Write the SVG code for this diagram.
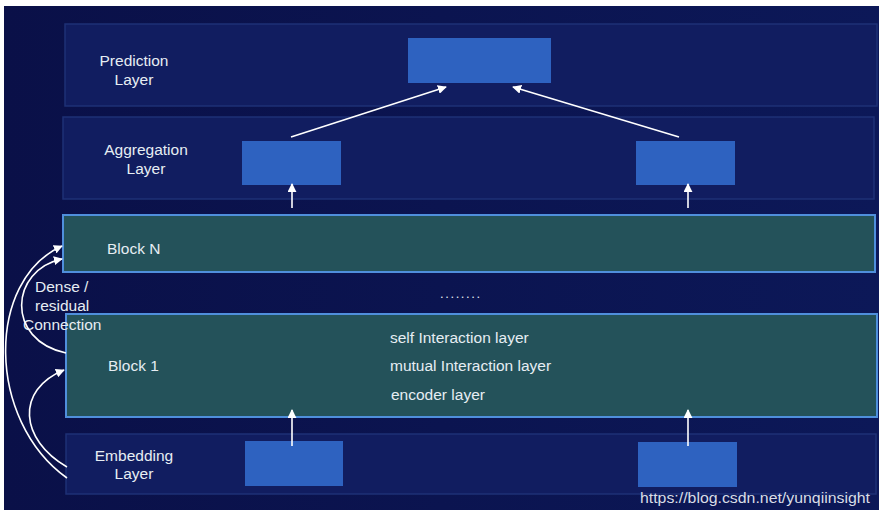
<svg xmlns="http://www.w3.org/2000/svg" width="882" height="517" viewBox="0 0 882 517">
<defs>
<linearGradient id="bg" x1="0" y1="0" x2="1" y2="0">
<stop offset="0" stop-color="#0a1048"/>
<stop offset="1" stop-color="#0c1858"/>
</linearGradient>
<marker id="ah" viewBox="0 0 10 10" refX="9" refY="5" markerWidth="9" markerHeight="9" markerUnits="userSpaceOnUse" orient="auto">
<path d="M0,0 L10,5 L0,10 z" fill="#ffffff"/>
</marker>
<style>
.panel{fill:#111d60;stroke:#1e3176;stroke-width:1.5}
.block{fill:#24525a;stroke:#4f8fdc;stroke-width:2}
.box{fill:#2e62c0}
.t{font-family:"Liberation Sans",Arial,sans-serif;font-size:15.5px;fill:#e6edf3}
.c{text-anchor:middle}
.con{stroke:#ffffff;stroke-width:1.6;fill:none;marker-end:url(#ah)}
</style>
</defs>
<rect width="882" height="517" fill="#ffffff"/>
<rect x="4" y="6" width="875" height="504" fill="url(#bg)"/>

<g id="prediction-layer">
<rect class="panel" x="65" y="24" width="812" height="82"/>
<text class="t c" x="134" y="66">Prediction</text>
<text class="t c" x="134" y="85">Layer</text>
<rect id="prediction-box" class="box" x="408" y="38" width="143" height="45"/>
</g>

<g id="aggregation-layer">
<rect class="panel" x="63" y="117" width="811" height="82"/>
<text class="t c" x="146" y="155">Aggregation</text>
<text class="t c" x="146" y="174">Layer</text>
<rect id="agg-box-1" class="box" x="242" y="141" width="99" height="44"/>
<rect id="agg-box-2" class="box" x="636" y="141" width="99" height="44"/>
</g>

<g id="block-n">
<rect class="block" x="63" y="215" width="812" height="57"/>
<text class="t" x="107" y="254">Block N</text>
</g>

<g id="ellipsis">
<text class="t" x="440" y="298" style="font-size:13px;letter-spacing:1.6px">........</text>
</g>

<g id="block-1">
<rect class="block" x="66" y="314" width="811" height="103"/>
<text class="t" x="108" y="371">Block 1</text>
<text class="t" x="390" y="343">self Interaction layer</text>
<text class="t" x="390" y="371">mutual Interaction layer</text>
<text class="t" x="391" y="400">encoder layer</text>
</g>

<g id="embedding-layer">
<rect class="panel" x="66" y="434" width="810" height="60"/>
<text class="t c" x="134" y="461">Embedding</text>
<text class="t c" x="134" y="479">Layer</text>
<rect id="emb-box-1" class="box" x="245" y="441" width="98" height="45"/>
<rect id="emb-box-2" class="box" x="638" y="442" width="99" height="45"/>
</g>

<g id="connection-label">
<text class="t" x="35" y="292">Dense /</text>
<text class="t" x="35" y="311">residual</text>
<text class="t" x="23" y="330">Connection</text>
</g>

<g id="connectors">
<line class="con" x1="292" y1="208" x2="292" y2="184"/>
<line class="con" x1="688" y1="208" x2="688" y2="184"/>
<line class="con" x1="292" y1="446" x2="292" y2="410"/>
<line class="con" x1="688" y1="446" x2="688" y2="410"/>
<line class="con" x1="291" y1="137" x2="446" y2="87"/>
<line class="con" x1="679" y1="137" x2="513" y2="87"/>
<path class="con" d="M67,478 C-14,420 -14,280 62,246"/>
<path class="con" d="M67,467 C20,440 15,390 64,370"/>
<path class="con" d="M66,353 C5,340 10,270 62,259"/>
</g>

<g id="watermark">
<text class="t" x="640" y="503" textLength="230" lengthAdjust="spacingAndGlyphs" style="font-size:15.5px;fill:#d8dde6">https://blog.csdn.net/yunqiinsight</text>
</g>
</svg>
